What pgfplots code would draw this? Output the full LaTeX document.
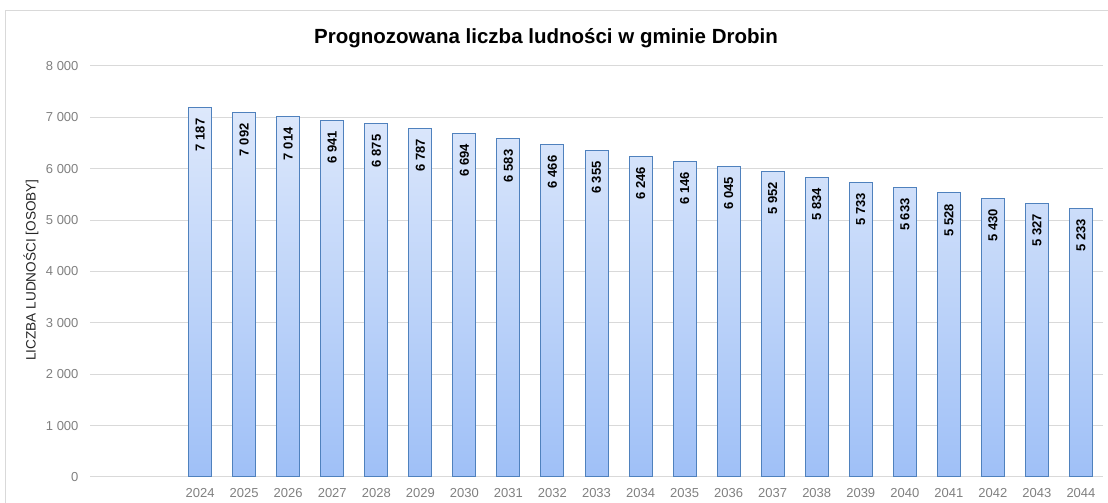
\documentclass[border=0pt]{standalone}
\usepackage{pgfplots}
\pgfplotsset{compat=1.18}
\usepackage{fontspec}
\setmainfont{Liberation Sans}
\definecolor{barborder}{HTML}{4F81BD}
\definecolor{bartop}{HTML}{DDE8FB}
\definecolor{barbot}{HTML}{9FC0F7}
\definecolor{gridc}{HTML}{D9D9D9}
\definecolor{tickc}{HTML}{808080}
\begin{document}
\begin{tikzpicture}[x=1pt,y=1pt]
\useasboundingbox (0,0) rectangle (1108,503);
\draw[gridc, line width=1pt] (5.5,-2) |- (1112,492);
\node[font=\bfseries\fontsize{20.5}{24}\selectfont] at (546,465) {Prognozowana liczba ludności w gminie Drobin};
\node[rotate=90, font=\fontsize{13.6}{16}\selectfont, text=black!85] at (31,233) {LICZBA LUDNOŚCI [OSOBY]};
\begin{axis}[
  at={(90pt,26pt)}, anchor=south west,
  scale only axis,
  width=1013pt, height=411pt,
  xmin=-2.5, xmax=20.5,
  ymin=0, ymax=8000,
  ytick={0,1000,...,8000},
  xtick={0,...,20},
  xticklabels={2024,2025,2026,2027,2028,2029,2030,2031,2032,2033,2034,2035,2036,2037,2038,2039,2040,2041,2042,2043,2044},
  major tick length=0pt,
  axis line style={draw=none},
  ymajorgrids,
  grid style={gridc, line width=1pt},
  /pgf/number format/assume math mode=true,
  /pgf/number format/1000 sep={\ },
  scaled y ticks=false,
  ticklabel style={font=\fontsize{13}{15}\selectfont, text=tickc},
  yticklabel style={xshift=-8pt},
  xticklabel style={yshift=-8pt},
  clip=false,
]
\addplot[ybar, bar width=23pt, draw=barborder, line width=1pt,
  top color=bartop, bottom color=barbot,
  nodes near coords,
  nodes near coords style={rotate=90, anchor=east, xshift=-7pt, font=\bfseries\fontsize{13}{15}\selectfont, text=black,
    /pgf/number format/1000 sep={\ }, /pgf/number format/assume math mode=true},
] coordinates {
(0,7187) (1,7092) (2,7014) (3,6941) (4,6875) (5,6787) (6,6694) (7,6583) (8,6466) (9,6355) (10,6246)
(11,6146) (12,6045) (13,5952) (14,5834) (15,5733) (16,5633) (17,5528) (18,5430) (19,5327) (20,5233)
};
\end{axis}
\end{tikzpicture}
\end{document}
